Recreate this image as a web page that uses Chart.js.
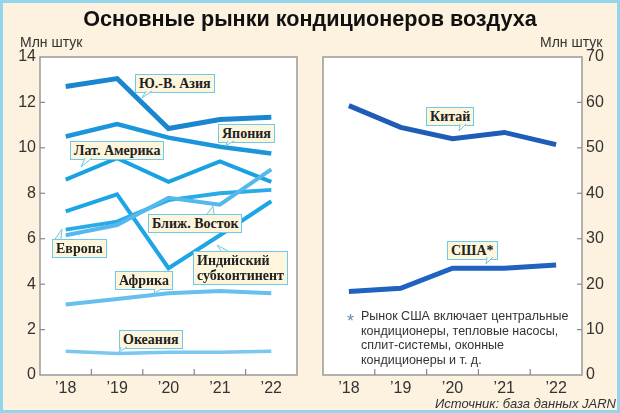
<!DOCTYPE html>
<html>
<head>
<meta charset="utf-8">
<script src="https://cdn.jsdelivr.net/npm/chart.js@4"></script>
<style>
  html, body { margin: 0; padding: 0; }
  body { width: 620px; height: 413px; position: relative; overflow: hidden; background: #fcf2df; font-family: "Liberation Sans", Arial, sans-serif; color: #222; }
  .frame { position: absolute; left: 0; top: 0; width: 614px; height: 407px; border: 3px solid #92d5ec; }
  canvas { position: absolute; top: 0; }
  .txt { position: absolute; white-space: nowrap; }
  .tag { position: absolute; white-space: nowrap; font-family: "Liberation Serif", "Times New Roman", serif; font-weight: bold; font-size: 14px; line-height: 15px; color: #222; background: #fdf5dc; border: 1px solid #6ccaee; padding: 1px 3px; }
  svg { position: absolute; left: 0; top: 0; }
</style>
</head>
<body>
<div class="frame"></div>
<canvas id="leftChart" width="305" height="413" style="left:0"></canvas>
<canvas id="rightChart" width="315" height="413" style="left:305px"></canvas>

<div class="txt" style="left:0;width:620px;top:6px;text-align:center;font-size:21.6px;font-weight:bold;color:#111">Основные рынки кондиционеров воздуха</div>
<div class="txt" style="left:20px;top:34px;font-size:14px;color:#333">Млн штук</div>
<div class="txt" style="left:540px;top:34px;font-size:14px;color:#333">Млн штук</div>

<div class="tag" style="left:135px;top:74px">Ю.-В. Азия</div>
<div class="tag" style="left:218px;top:124px">Япония</div>
<div class="tag" style="left:70px;top:141px">Лат. Америка</div>
<div class="tag" style="left:148px;top:214px">Ближ. Восток</div>
<div class="tag" style="left:52px;top:239px">Европа</div>
<div class="tag" style="left:193px;top:251px;line-height:15px">Индийский<br>субконтинент</div>
<div class="tag" style="left:115px;top:271px">Африка</div>
<div class="tag" style="left:119px;top:330px">Океания</div>
<div class="tag" style="left:426px;top:107px">Китай</div>
<div class="tag" style="left:447px;top:241px">США*</div>

<svg width="620" height="413">
  <g fill="#fdf5dc" stroke="#6ccaee" stroke-width="1">
    <polyline points="146,91 142,98 152,91"/>
    <polyline points="228,141 225,146 234,141"/>
    <polyline points="85,158 81,167 92,158"/>
    <polyline points="207,214 213,206 214,214"/>
    <polyline points="55,239 62,229 61,239"/>
    <polyline points="221,251 217,245 228,251"/>
    <polyline points="155,289 154,294 161,289"/>
    <polyline points="121,347 119,352 127,347"/>
    <polyline points="460,124 459,131 466,124"/>
    <polyline points="487,257 486,264 493,257"/>
  </g>
</svg>

<div class="txt" style="left:347px;top:311px;font-size:18px;color:#6a8aa8">*</div>
<div class="txt" style="left:361px;top:309px;font-size:12.5px;line-height:14.7px;color:#333">Рынок США включает центральные<br>кондиционеры, тепловые насосы,<br>сплит-системы, оконные<br>кондиционеры и т. д.</div>
<div class="txt" style="right:4px;top:396px;font-size:13px;font-style:italic;color:#333">Источник: база данных JARN</div>

<script>
// Years and tick labels
const years = ["\u201918", "\u201919", "\u201920", "\u201921", "\u201922"];

// Left panel, mln units
const seAsia  = [12.7, 13.05, 10.85, 11.25, 11.35];
const japan   = [10.5, 11.05, 10.45, 10.05, 9.75];
const latAm   = [8.6, 9.55, 8.5, 9.4, 8.5];
const india   = [7.2, 7.95, 4.7, 6.15, 7.65];
const europe  = [6.4, 6.75, 7.7, 8.0, 8.15];
const midEast = [6.15, 6.6, 7.8, 7.5, 9.05];
const africa  = [3.1, 3.35, 3.6, 3.7, 3.6];
const oceania = [1.05, 0.95, 1.0, 1.0, 1.05];

// Right panel, mln units
const china = [59.3, 54.5, 52.0, 53.4, 50.7];
const usa   = [18.4, 19.1, 23.5, 23.5, 24.2];

const tickFont = { family: "'Liberation Sans', Arial, sans-serif", size: 16 };

// white plot area, grey frame, short ticks pointing inward
const boxPlugin = {
  id: "box",
  beforeDraw(chart) {
    const { ctx, chartArea: a } = chart;
    ctx.save();
    ctx.fillStyle = "#fff";
    ctx.fillRect(a.left, a.top, a.width, a.height);
    ctx.restore();
  },
  beforeDatasetsDraw(chart) {
    const { ctx, chartArea: a, scales } = chart;
    ctx.save();
    ctx.strokeStyle = "#999";
    ctx.lineWidth = 1.5;
    ctx.strokeRect(a.left, a.top, a.width, a.height);
    ctx.lineWidth = 1.2;
    ctx.strokeStyle = "#888";
    const y = scales.y;
    const onRight = y.position === "right";
    y.ticks.forEach(t => {
      if (t.value === y.min || t.value === y.max) return;
      const py = y.getPixelForValue(t.value);
      ctx.beginPath();
      if (onRight) { ctx.moveTo(a.right, py); ctx.lineTo(a.right - 5, py); }
      else { ctx.moveTo(a.left, py); ctx.lineTo(a.left + 5, py); }
      ctx.stroke();
    });
    const x = scales.x;
    for (let i = 0; i < years.length - 1; i++) {
      const px = (x.getPixelForTick(i) + x.getPixelForTick(i + 1)) / 2;
      ctx.beginPath();
      ctx.moveTo(px, a.bottom);
      ctx.lineTo(px, a.bottom - 6);
      ctx.stroke();
    }
    ctx.restore();
  }
};

function line(data, color, width) {
  return { data: data, borderColor: color, borderWidth: width, pointRadius: 0, tension: 0, fill: false };
}

function baseOptions(yMax, yStep, yPos, yWidth, padding) {
  return {
    responsive: false,
    animation: false,
    layout: { padding: padding },
    plugins: { legend: { display: false }, tooltip: { enabled: false } },
    scales: {
      x: {
        type: "category",
        offset: true,
        grid: { display: false, drawTicks: false },
        border: { display: false },
        ticks: { font: tickFont, color: "#333", padding: 4, maxRotation: 0 },
        afterFit: s => { s.height = 38; }
      },
      y: {
        position: yPos,
        min: 0,
        max: yMax,
        grid: { display: false, drawTicks: false },
        border: { display: false },
        ticks: { stepSize: yStep, font: tickFont, color: "#333", padding: 4 },
        afterFit: s => { s.width = yWidth; }
      }
    }
  };
}

new Chart(document.getElementById("leftChart").getContext("2d"), {
  type: "line",
  data: {
    labels: years,
    datasets: [
      line(oceania, "#7cc6f0", 3.5),
      line(africa, "#66bfee", 4),
      line(midEast, "#55b8ec", 4),
      line(europe, "#2aaae6", 4),
      line(india, "#1ea5e5", 4),
      line(latAm, "#19a2e0", 4),
      line(japan, "#1c96da", 4.5),
      line(seAsia, "#1b86d0", 5)
    ]
  },
  options: baseOptions(14, 2, "left", 40, { top: 57, right: 8, left: 0, bottom: 0 }),
  plugins: [boxPlugin]
});

new Chart(document.getElementById("rightChart").getContext("2d"), {
  type: "line",
  data: {
    labels: years,
    datasets: [
      line(usa, "#1f62c0", 5),
      line(china, "#1f5cb8", 5)
    ]
  },
  options: baseOptions(70, 10, "right", 38, { top: 57, right: 0, left: 18, bottom: 0 }),
  plugins: [boxPlugin]
});
</script>
</body>
</html>
